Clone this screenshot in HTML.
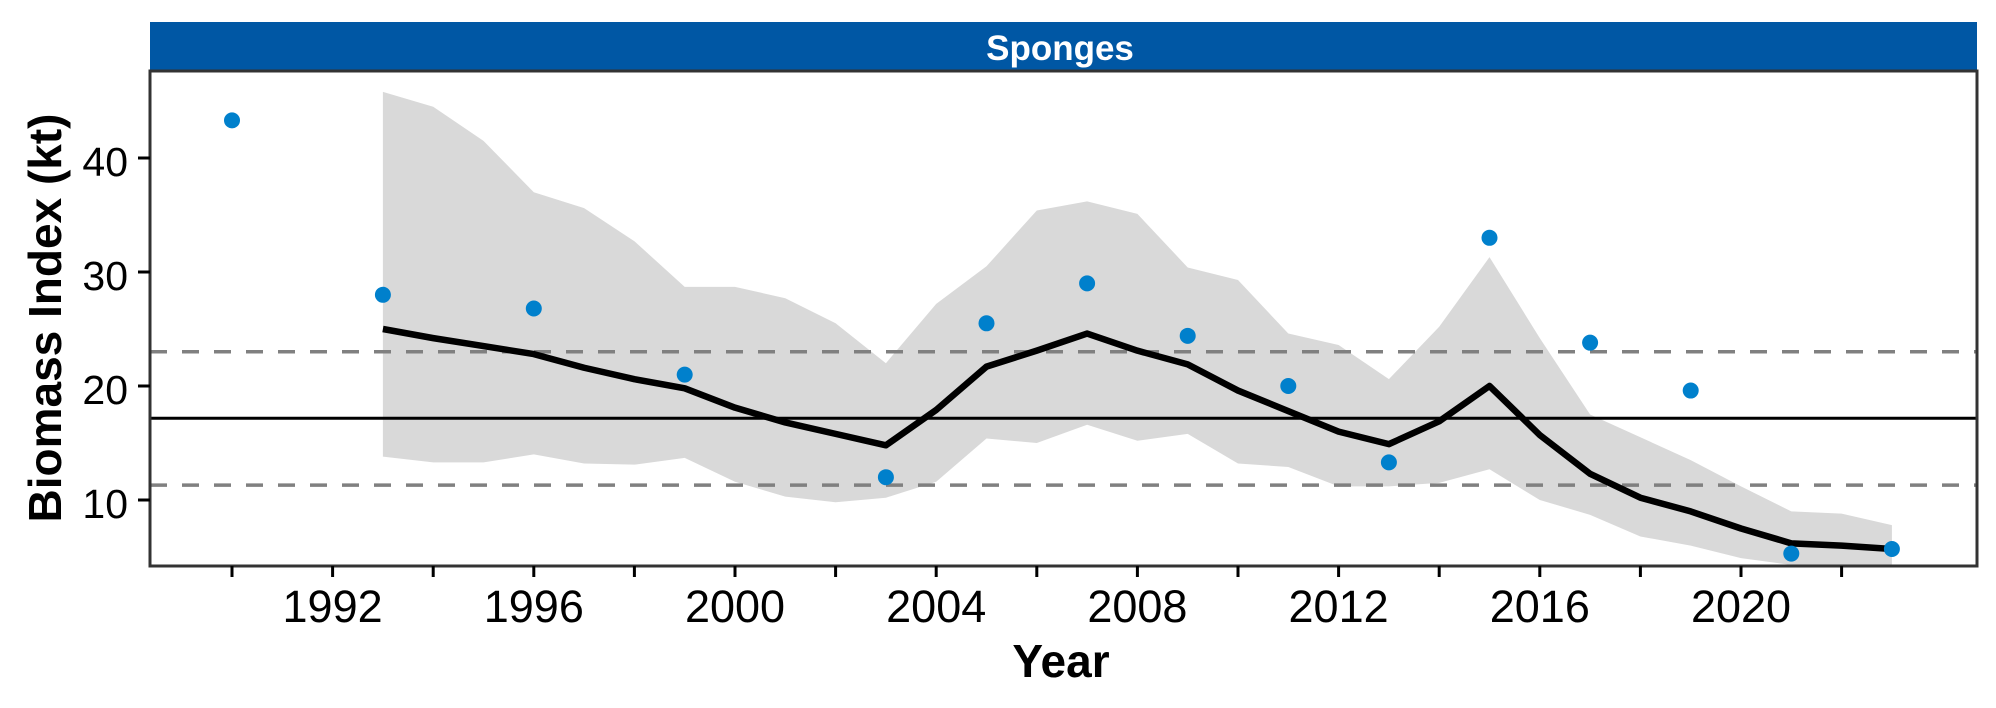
<!DOCTYPE html>
<html><head><meta charset="utf-8"><style>
body{margin:0;background:#fff;}
svg{display:block;font-family:"Liberation Sans",Arial,sans-serif;}
</style></head><body>
<svg id="chart" width="1996" height="708">
<rect x="150" y="22" width="1827" height="49" fill="#0057A4"/>
<text x="1060" y="60" text-anchor="middle" fill="#fff" font-weight="bold" font-size="35">Sponges</text>
<g id="plot"></g>
<rect x="150" y="71" width="1827" height="495" fill="none" stroke="#333" stroke-width="3"/>
<text x="1061" y="677" text-anchor="middle" font-weight="bold" font-size="46">Year</text>
<text transform="translate(61,318) rotate(-90)" text-anchor="middle" font-weight="bold" font-size="46">Biomass Index (kt)</text>
</svg>
<script>
const pointYears=[1990,1993,1996,1999,2003,2005,2007,2009,2011,2013,2015,2017,2019,2021,2023];
const pointValues=[43.3,28,26.8,21,12,25.5,29,24.4,20,13.3,33,23.8,19.6,5.3,5.7];
const fitYears=[1993,1994,1995,1996,1997,1998,1999,2000,2001,2002,2003,2004,2005,2006,2007,2008,2009,2010,2011,2012,2013,2014,2015,2016,2017,2018,2019,2020,2021,2022,2023];
const fitValues=[25,24.2,23.5,22.8,21.6,20.6,19.8,18.1,16.8,15.8,14.8,17.9,21.7,23.1,24.6,23.1,21.9,19.6,17.8,16.0,14.9,16.9,20,15.7,12.3,10.2,9.0,7.5,6.2,6.0,5.7];
const upperValues=[45.8,44.5,41.5,37,35.6,32.7,28.7,28.7,27.7,25.5,22,27.2,30.5,35.4,36.2,35.1,30.4,29.3,24.6,23.6,20.6,25.2,31.3,24.2,17.5,15.5,13.5,11.2,9,8.8,7.8];
const lowerValues=[13.8,13.3,13.3,14,13.2,13.1,13.7,11.6,10.3,9.8,10.2,11.6,15.4,15.0,16.6,15.2,15.8,13.2,12.9,11.2,11.2,11.5,12.7,10.0,8.7,6.8,6.0,4.9,4.3,4.3,4.3];
const meanValue=17.17, upperRef=23.0, lowerRef=11.3;
const yTicks=[10,20,30,40];
const xTicks=[1990,1992,1994,1996,1998,2000,2002,2004,2006,2008,2010,2012,2014,2016,2018,2020,2022];
const xLabels=["","1992","","1996","","2000","","2004","","2008","","2012","","2016","","2020",""];

const X=yr=>232+(yr-1990)*50.3;
const Y=v=>500-(v-10)*11.4;
const NS="http://www.w3.org/2000/svg";
const svg=document.getElementById('chart'), g=document.getElementById('plot');
function mk(tag,attrs,parent){const e=document.createElementNS(NS,tag);for(const k in attrs)e.setAttribute(k,attrs[k]);(parent||g).appendChild(e);return e;}

let d='';
fitYears.forEach((y,i)=>{d+=(i?'L':'M')+X(y)+','+Y(upperValues[i]);});
for(let i=fitYears.length-1;i>=0;i--)d+='L'+X(fitYears[i])+','+Y(lowerValues[i]);
const rib=mk('path',{d:d+'Z',fill:'#d9d9d9'});



[[upperRef,'upper-reference-line'],[lowerRef,'lower-reference-line']].forEach(([v,n])=>{
 const l=mk('line',{x1:150,x2:1977,y1:Y(v),y2:Y(v),stroke:'#808080','stroke-width':3.5,'stroke-dasharray':'17,15'});
 
 
});
const ml=mk('line',{x1:150,x2:1977,y1:Y(meanValue),y2:Y(meanValue),stroke:'#000','stroke-width':3});



const fl=mk('polyline',{points:fitYears.map((y,i)=>X(y)+','+Y(fitValues[i])).join(' '),fill:'none',stroke:'#000','stroke-width':6.5,'stroke-linejoin':'round'});



pointYears.forEach((y,i)=>{
 const c=mk('circle',{cx:X(y),cy:Y(pointValues[i]),r:8,fill:'#0080CC'});
 
 
});

yTicks.forEach(v=>{
 const t=mk('line',{x1:138,x2:150,y1:Y(v),y2:Y(v),stroke:'#000','stroke-width':3},svg);
 
 
 const l=mk('text',{x:128,y:Y(v)+18,'text-anchor':'end','font-size':41},svg);
 l.textContent=v;
 
 
});
xTicks.forEach((yr,i)=>{
 const t=mk('line',{x1:X(yr),x2:X(yr),y1:566,y2:577,stroke:'#000','stroke-width':3},svg);
 
 
 if(xLabels[i]){
  const l=mk('text',{x:X(yr),y:622,'text-anchor':'middle','font-size':45},svg);
  l.textContent=xLabels[i];
  
  
 }
});
</script>
</body></html>
